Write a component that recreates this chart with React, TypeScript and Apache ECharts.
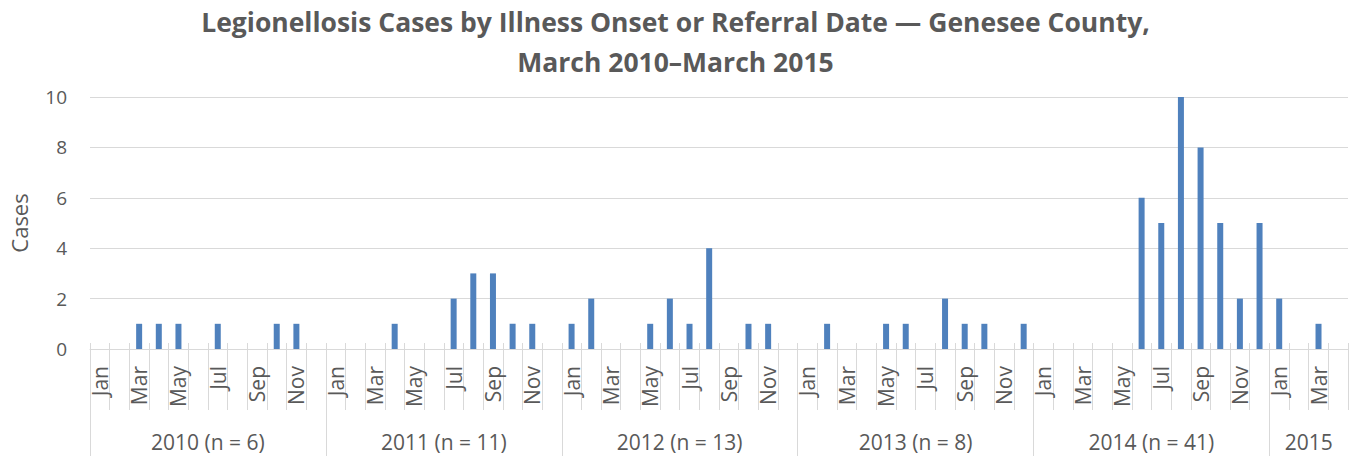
import React, { useEffect, useRef } from "react";
import * as echarts from "echarts";

const monthNames = ["Jan", "Feb", "Mar", "Apr", "May", "Jun", "Jul", "Aug", "Sep", "Oct", "Nov", "Dec"];
const yearLabels = ["2010 (n = 6)", "2011 (n = 11)", "2012 (n = 13)", "2013 (n = 8)", "2014 (n = 41)", "2015"];
const cases2010 = [0, 0, 1, 1, 1, 0, 1, 0, 0, 1, 1, 0];
const cases2011 = [0, 0, 0, 1, 0, 0, 2, 3, 3, 1, 1, 0];
const cases2012 = [1, 2, 0, 0, 1, 2, 1, 4, 0, 1, 1, 0];
const cases2013 = [0, 1, 0, 0, 1, 1, 0, 2, 1, 1, 0, 1];
const cases2014 = [0, 0, 0, 0, 0, 6, 5, 10, 8, 5, 2, 5];
const cases2015 = [2, 0, 1, 0];
const yTicks = [0, 2, 4, 6, 8, 10];

const titleText =
  "Legionellosis Cases by Illness Onset or Referral Date \u2014 Genesee County,\nMarch 2010\u2013March 2015";

export default function App() {
  const ref = useRef<HTMLDivElement>(null);
  useEffect(() => {
    if (!ref.current) return;
    const chart = echarts.init(ref.current, null, { renderer: "svg" });
    const yearSeries = [cases2010, cases2011, cases2012, cases2013, cases2014, cases2015];
    const values: number[] = [];
    const categories: string[] = [];
    yearSeries.forEach((arr) => {
      arr.forEach((v, i) => {
        values.push(v);
        categories.push(monthNames[i]);
      });
    });
    const n = categories.length;
    const groupStarts: number[] = [];
    const groupCenters: number[] = [];
    let acc = 0;
    yearSeries.forEach((arr) => {
      groupStarts.push(acc);
      groupCenters.push(acc + arr.length / 2);
      acc += arr.length;
    });
    const font = "Open Sans";
    const textColor = "#595959";
    const lineColor = "#d9d9d9";
    chart.setOption({
      animation: false,
      textStyle: { fontFamily: font },
      title: {
        text: titleText,
        left: "center",
        top: -3,
        textStyle: {
          fontFamily: font,
          fontSize: 26.5,
          fontWeight: "bold",
          color: textColor,
          lineHeight: 40,
        },
      },
      grid: { left: 89, right: 3, top: 97, bottom: 107, containLabel: false },
      xAxis: [
        {
          type: "category",
          data: categories,
          position: "bottom",
          boundaryGap: true,
          axisLine: { show: true, lineStyle: { color: lineColor, width: 1 } },
          axisTick: { show: true, interval: 0, length: 61, lineStyle: { color: lineColor } },
          axisLabel: {
            interval: (index: number) => index % 2 === 0,
            rotate: 90,
            margin: 17,
            fontSize: 21,
            color: textColor,
            fontFamily: font,
          },
          splitLine: { show: false },
        },
        {
          type: "value",
          min: 0,
          max: n,
          position: "bottom",
          offset: 61,
          axisLine: { show: false },
          axisTick: {
            show: true,
            customValues: groupStarts,
            length: 46,
            lineStyle: { color: lineColor },
          },
          axisLabel: {
            show: true,
            customValues: groupCenters,
            margin: 21,
            fontSize: 21,
            color: textColor,
            fontFamily: font,
            formatter: (v: number) => {
              const idx = groupCenters.indexOf(v);
              return idx >= 0 ? yearLabels[idx] : "";
            },
          },
          splitLine: { show: false },
        },
        {
          type: "category",
          data: categories,
          position: "bottom",
          boundaryGap: true,
          axisLine: { show: false },
          axisTick: { show: true, inside: true, interval: 0, length: 6, lineStyle: { color: lineColor } },
          axisLabel: { show: false },
          splitLine: { show: false },
        },
      ],
      yAxis: {
        type: "value",
        min: yTicks[0],
        max: yTicks[yTicks.length - 1],
        interval: 2,
        name: "Cases",
        nameLocation: "middle",
        nameGap: 60,
        nameTextStyle: { fontSize: 22, color: textColor, fontFamily: font },
        axisLine: { show: false },
        axisTick: { show: false },
        axisLabel: { fontSize: 19, color: textColor, margin: 23, fontFamily: font },
        splitLine: { show: true, lineStyle: { color: lineColor, width: 1 } },
      },
      series: [
        {
          type: "bar",
          xAxisIndex: 0,
          data: values,
          barWidth: 6,
          itemStyle: { color: "#4f81bd" },
        },
      ],
    });
    return () => chart.dispose();
  }, []);
  return (
    <div
      ref={ref}
      style={{ position: "fixed", left: 0, top: 0, width: 1351, height: 456, background: "#fff" }}
    />
  );
}
